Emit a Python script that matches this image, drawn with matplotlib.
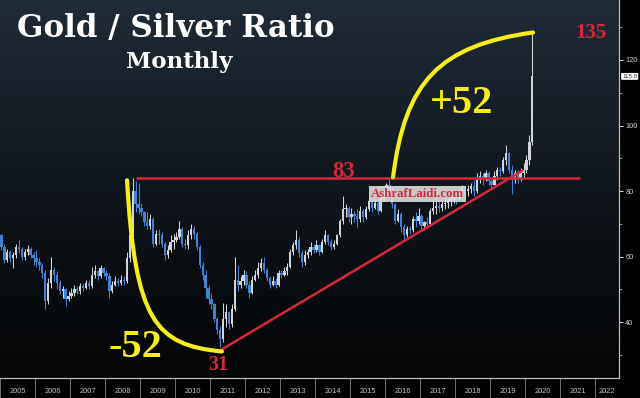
import matplotlib
matplotlib.use("Agg")
import matplotlib.pyplot as plt
import numpy as np
from matplotlib.path import Path
from matplotlib.patches import PathPatch
from matplotlib.colors import LinearSegmentedColormap


# ── Data: monthly gold / silver ratio, Jan 2005 .. Mar 2020 ─────────────
START_YEAR = 2005
FIRST_OPEN = 66.5

CLOSE = [
    63.0, 59.0, 61.5, 59.5, 60.5, 63.0, 62.5, 60.0, 61.5, 62.5, 60.5, 59.5,  # 2005
    58.5, 57.5, 55.0, 46.5, 52.0, 56.0, 54.5, 52.0, 49.5, 50.0, 47.0, 48.0,  # 2006
    49.0, 50.0, 49.5, 51.0, 50.5, 52.0, 51.0, 54.5, 55.5, 54.0, 56.5, 55.0,  # 2007
    54.0, 49.5, 51.5, 52.5, 52.0, 53.0, 52.5, 59.5, 66.5, 80.0, 76.0, 75.0,  # 2008
    73.5, 70.5, 69.5, 71.5, 64.0, 67.0, 66.5, 64.0, 60.5, 62.0, 64.5, 65.0,  # 2009
    66.0, 68.5, 64.0, 63.5, 66.5, 68.5, 67.0, 63.0, 57.5, 54.5, 50.5, 47.0,  # 2010
    45.5, 41.0, 37.5, 35.0, 41.0, 43.0, 39.5, 44.0, 53.0, 51.5, 52.5, 54.5,  # 2011
    51.5, 49.0, 53.0, 54.5, 56.5, 58.0, 56.0, 53.5, 51.5, 52.5, 51.5, 55.0,  # 2012
    54.5, 55.5, 57.0, 61.5, 63.5, 65.0, 61.0, 58.5, 60.5, 61.5, 63.0, 62.0,  # 2013
    63.5, 61.5, 64.5, 66.5, 64.5, 63.0, 64.0, 66.5, 71.0, 74.5, 75.0, 72.0,  # 2014
    73.0, 72.5, 71.5, 74.0, 72.0, 74.5, 77.0, 75.0, 76.5, 74.0, 77.5, 78.5,  # 2015
    82.0, 80.0, 76.0, 71.0, 73.0, 69.0, 66.5, 68.5, 68.0, 71.5, 71.0, 72.5,  # 2016
    69.5, 70.5, 70.0, 74.0, 75.0, 75.5, 75.0, 76.0, 76.5, 77.0, 77.5, 78.5,  # 2017
    77.5, 79.5, 81.0, 80.0, 80.5, 81.5, 80.0, 83.5, 84.5, 84.0, 85.5, 83.0,  # 2018
    82.0, 84.5, 86.5, 86.0, 89.5, 91.5, 86.5, 83.5, 85.5, 84.0, 85.5, 86.5,  # 2019
    89.5, 95.0, 115.0,                                                       # 2020
]

HIGH = [
    67.0, 63.5, 62.5, 62.0, 61.5, 64.0, 65.0, 63.0, 62.5, 63.5, 63.0, 61.5,
    62.0, 59.5, 58.0, 56.0, 53.5, 60.0, 57.0, 55.5, 53.0, 51.0, 50.5, 49.5,
    50.5, 51.5, 51.0, 52.0, 52.0, 53.0, 53.0, 57.0, 57.5, 56.0, 57.5, 57.0,
    56.0, 55.0, 52.5, 54.0, 53.5, 54.5, 54.0, 61.5, 68.5, 84.0, 83.0, 82.5,
    76.5, 74.0, 73.5, 73.0, 72.0, 68.0, 68.5, 67.5, 64.5, 63.5, 66.5, 67.0,
    67.5, 71.0, 69.0, 65.5, 68.0, 70.0, 69.5, 67.5, 63.5, 58.5, 56.0, 51.5,
    49.0, 46.0, 41.5, 39.0, 46.0, 45.5, 43.5, 45.5, 60.0, 57.5, 54.0, 56.0,
    55.5, 52.5, 54.0, 56.0, 58.5, 59.5, 60.0, 56.5, 54.0, 54.0, 53.5, 56.0,
    56.0, 57.0, 58.0, 62.5, 64.5, 68.0, 66.0, 62.0, 62.0, 62.5, 64.5, 64.0,
    65.0, 64.0, 65.5, 68.0, 67.0, 65.5, 65.0, 67.0, 71.5, 78.5, 76.0, 75.5,
    75.0, 74.0, 74.5, 75.5, 74.5, 75.5, 78.0, 78.0, 77.5, 77.5, 79.0, 81.0,
    82.5, 84.0, 81.0, 76.5, 74.5, 73.5, 70.0, 69.5, 69.5, 72.5, 73.5, 75.0,
    73.0, 71.0, 72.0, 75.0, 77.0, 78.0, 77.0, 77.0, 78.0, 78.0, 78.5, 80.5,
    80.5, 81.0, 82.0, 81.5, 82.0, 82.5, 83.5, 85.5, 86.0, 85.5, 86.5, 86.0,
    84.0, 86.0, 87.5, 87.5, 90.5, 94.0, 92.0, 88.0, 86.5, 86.5, 87.0, 88.5,
    91.0, 97.0, 128.5,
]

LOW = [
    62.0, 58.0, 58.5, 58.5, 56.5, 59.5, 61.0, 59.0, 59.0, 60.5, 59.5, 57.5,
    57.0, 56.0, 53.5, 44.0, 45.5, 50.5, 52.5, 50.0, 48.5, 47.5, 45.0, 46.5,
    47.5, 48.0, 48.5, 48.5, 49.5, 50.0, 50.0, 50.5, 53.5, 53.0, 53.5, 54.0,
    53.0, 47.5, 49.0, 51.0, 51.0, 51.5, 51.5, 52.0, 58.5, 64.0, 73.5, 73.0,
    72.5, 69.5, 68.5, 68.5, 63.0, 63.5, 64.0, 63.0, 59.0, 59.5, 61.5, 62.5,
    64.5, 65.5, 63.0, 62.5, 62.5, 65.5, 65.5, 62.0, 56.5, 53.0, 47.5, 45.5,
    44.0, 40.0, 36.5, 32.5, 34.0, 38.5, 38.0, 38.5, 43.5, 49.5, 50.5, 51.5,
    50.5, 47.5, 48.5, 52.5, 53.5, 55.5, 55.0, 52.5, 50.5, 51.0, 50.5, 51.0,
    53.5, 54.0, 54.5, 56.5, 60.5, 62.5, 60.0, 57.0, 57.5, 59.5, 60.5, 61.0,
    61.5, 60.5, 61.0, 64.0, 63.5, 62.0, 62.5, 63.5, 66.0, 70.0, 72.0, 70.5,
    70.0, 70.5, 69.0, 70.5, 70.5, 71.5, 74.0, 73.5, 74.5, 73.0, 73.5, 77.0,
    77.5, 78.5, 75.0, 70.0, 70.5, 67.5, 65.0, 66.0, 67.0, 67.5, 69.0, 70.0,
    68.0, 68.0, 69.0, 69.5, 73.0, 73.0, 73.5, 74.0, 74.5, 75.0, 75.5, 76.5,
    76.0, 77.5, 78.5, 77.5, 78.5, 79.5, 78.5, 79.5, 82.5, 82.0, 83.0, 82.0,
    81.0, 82.0, 83.5, 84.5, 85.5, 88.0, 85.5, 79.0, 82.5, 82.5, 83.0, 84.0,
    85.5, 88.0, 94.0,
]

LAST_PRICE = 115.0
YEAR_LABELS = list(range(2005, 2023))

# annotation levels drawn by hand on the original
RESIST_LEVEL = 83.9
RESIST_SPAN = (2008.88, 2021.57)
SUPPORT_LINE = ([2011.35, 2019.92], [31.8, 86.2])
FALL_CURVE = [(2008.63, 83.3), (2008.86, 40.6), (2009.43, 33.0), (2011.34, 31.1)]
RISE_CURVE = [(2016.23, 84.2), (2016.57, 113.7), (2017.57, 124.4), (2020.23, 128.4)]

# ── Style ───────────────────────────────────────────────────────────────
BLUE   = "#3f82d6"
GRAY   = "#d0d3d8"
RED    = "#d6283a"
YELLOW = "#f6ee1c"
SERIF  = ["Liberation Serif", "DejaVu Serif"]


fig = plt.figure(figsize=(6.4, 3.98), dpi=100, facecolor="black")
ax = fig.add_axes([0, 20 / 398, 619 / 640, 378 / 398])

# background gradient (slate at top, black at bottom)
bg = LinearSegmentedColormap.from_list("bg", ["#1f2b37", "#10161d", "#030405"])
ax.imshow(np.linspace(0, 1, 256).reshape(-1, 1), cmap=bg, aspect="auto",
          extent=[0, 1, 0, 1], transform=ax.transAxes, zorder=0)

# ── Candles ─────────────────────────────────────────────────────────────
close = np.array(CLOSE)
high  = np.array(HIGH)
low   = np.array(LOW)
opn   = np.concatenate([[FIRST_OPEN], close[:-1]])
x     = START_YEAR + (np.arange(len(close)) + 0.5) / 12
cols  = [GRAY if c >= o else BLUE for o, c in zip(opn, close)]

ax.vlines(x, low, high, colors=cols, linewidth=0.75, zorder=2)
ax.bar(x, np.maximum(np.abs(close - opn), 0.4), bottom=np.minimum(opn, close),
       width=0.8 / 12, color=cols, linewidth=0, zorder=3)

# ── Hand-drawn style annotations ────────────────────────────────────────
ax.hlines(RESIST_LEVEL, *RESIST_SPAN, color=RED, linewidth=1.8, zorder=4)
ax.plot(*SUPPORT_LINE, color=RED, linewidth=1.8, zorder=4)

curve_codes = [Path.MOVETO, Path.CURVE4, Path.CURVE4, Path.CURVE4]
for pts in (FALL_CURVE, RISE_CURVE):
    ax.add_patch(PathPatch(Path(pts, curve_codes), fill=False, edgecolor=YELLOW,
                           linewidth=3.0, capstyle="round", zorder=5))

ax.text(2017.29, 103.7, "+52", color=YELLOW, fontsize=29, fontweight="bold",
        family=SERIF, ha="left", va="baseline", zorder=6)
ax.text(2008.09, 29.3, "-52", color=YELLOW, fontsize=29, fontweight="bold",
        family=SERIF, ha="left", va="baseline", zorder=6)
ax.text(2014.48, 84.3, "83", color=RED, fontsize=16.5, fontweight="bold",
        family=SERIF, ha="left", va="baseline", zorder=6)
ax.text(2021.43, 126.6, "135", color=RED, fontsize=15, fontweight="bold",
        family=SERIF, ha="left", va="baseline", zorder=6)
ax.text(2010.94, 25.3, "31", color=RED, fontsize=14.4, fontweight="bold",
        family=SERIF, ha="left", va="baseline", zorder=6)
ax.text(2016.94, 79.15, "AshrafLaidi.com", color=RED, fontsize=9.3,
        fontweight="bold", family=SERIF, ha="center", va="center", zorder=6,
        bbox=dict(boxstyle="square,pad=0.15", fc="#dcdcdc", ec="none", alpha=0.9))

# ── Axes ────────────────────────────────────────────────────────────────
ax.set_xlim(START_YEAR, START_YEAR + 619 / 35)
ax.set_ylim(23.0, 138.3)

for side in ("left", "top"):
    ax.spines[side].set_visible(False)
for side in ("right", "bottom"):
    ax.spines[side].set_color("#bdbdbd")
    ax.spines[side].set_linewidth(0.9)

# year separators as major ticks, year names as minor tick labels
ax.set_xticks(YEAR_LABELS)
ax.set_xticklabels([])
xmax = ax.get_xlim()[1]
ax.set_xticks([min(y + 0.5, xmax - 0.36) for y in YEAR_LABELS], minor=True)
ax.set_xticklabels([str(y) for y in YEAR_LABELS], minor=True)
ax.tick_params(axis="x", which="major", direction="out", length=15,
               width=0.7, color="#6e6e6e")
ax.tick_params(axis="x", which="minor", length=0, pad=7.5,
               labelsize=5.3, labelcolor="#c4c4c4")
for lab in ax.get_xticklabels(minor=True):
    lab.set_family("Liberation Sans")

ax.yaxis.tick_right()
ax.set_yticks(range(40, 121, 20))
ax.set_yticks(range(30, 131, 10), minor=True)
ax.tick_params(axis="y", which="major", direction="out", length=3, width=0.7,
               color="#dddddd", pad=1.5, labelsize=5.3, labelcolor="#d4d4d4")
ax.tick_params(axis="y", which="minor", direction="out", length=2, width=0.6,
               color="#aaaaaa")
for lab in ax.get_yticklabels():
    lab.set_family("Liberation Sans")

ax.annotate(f"{LAST_PRICE:.1f}", xy=(1, LAST_PRICE),
            xycoords=("axes fraction", "data"), xytext=(2.2, 0),
            textcoords="offset points", ha="left", va="center",
            fontsize=4.5, family="Liberation Sans", color="#222222",
            bbox=dict(boxstyle="round,pad=0.15", fc="white", ec="none"),
            annotation_clip=False)

# ── Titles ──────────────────────────────────────────────────────────────
fig.text(16.7 / 640, 1 - 36.7 / 398, "Gold / Silver Ratio", color="white",
         fontsize=22.3, fontweight="bold", family="DejaVu Serif",
         ha="left", va="baseline")
fig.text(126 / 640, 1 - 68.3 / 398, "Monthly", color="white",
         fontsize=16.5, fontweight="bold", family="DejaVu Serif",
         ha="left", va="baseline")

fig.savefig("out.png", dpi=100, facecolor="black")
